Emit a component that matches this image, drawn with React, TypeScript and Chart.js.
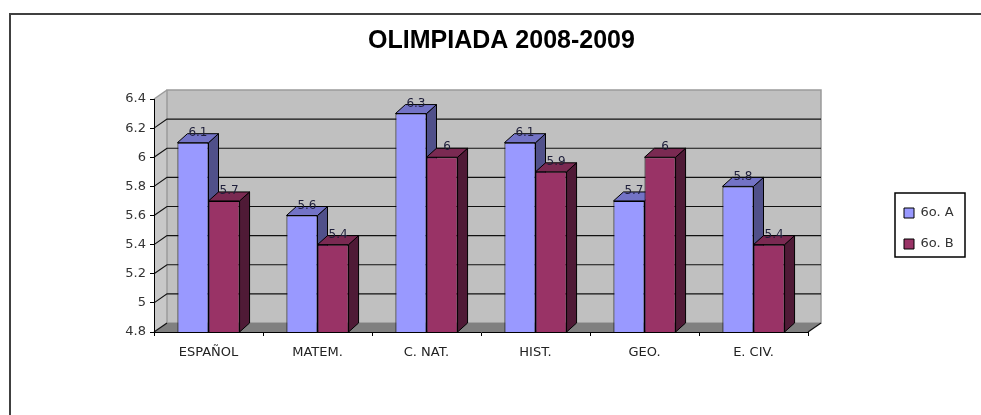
import { useEffect, useRef } from 'react';
import { Chart, registerables } from 'chart.js';

Chart.register(...registerables);

const TITLE = 'OLIMPIADA 2008-2009';
const CATEGORIES = ['ESPAÑOL', 'MATEM.', 'C. NAT.', 'HIST.', 'GEO.', 'E. CIV.'];
const SERIES_NAMES = ['6o. A', '6o. B'];
const VALUES_A = [6.1, 5.6, 6.3, 6.1, 5.7, 5.8];
const VALUES_B = [5.7, 5.4, 6.0, 5.9, 6.0, 5.4];
const Y_TICKS = [4.8, 5, 5.2, 5.4, 5.6, 5.8, 6, 6.2, 6.4];
const Y_TICK_LABELS = ['4.8', '5', '5.2', '5.4', '5.6', '5.8', '6', '6.2', '6.4'];

const FRONT = ['#9999FF', '#993366'];
const SIDE = ['#50508A', '#4F1A36'];
const TOPC = ['#7373C6', '#7A2A52'];

const WALL = { dx: 13, dy: -9 };
const BAR3D = { dx: 10, dy: -9 };
const LEGEND_SPACE = 173;
const LEGEND_POS = { left: 886, top: 188.5 };
const LEGEND_FRAME = { x: 895, y: 193, w: 70, h: 64 };

const threeD = {
  id: 'threeD',
  beforeLayout(chart: any) {
    const lg: any = chart.legend;
    if (lg && !lg.__patched) {
      const f = lg.fit;
      lg.fit = function () {
        f.call(this);
        this.width = LEGEND_SPACE;
      };
      lg.__patched = true;
    }
  },
  afterLayout(chart: any) {
    const lg: any = chart.legend;
    if (!lg) return;
    lg.left = LEGEND_POS.left;
    lg.top = LEGEND_POS.top;
    lg.width = 100;
    lg.height = 110;
    lg.right = lg.left + lg.width;
    lg.bottom = lg.top + lg.height;
  },
  beforeDraw(chart: any) {
    const { ctx, chartArea } = chart;
    const { left, right, top, bottom } = chartArea;
    const y = chart.scales.y;
    const { dx, dy } = WALL;
    ctx.save();
    // left wall
    ctx.fillStyle = '#C8C8C8';
    ctx.beginPath();
    ctx.moveTo(left, top);
    ctx.lineTo(left + dx, top + dy);
    ctx.lineTo(left + dx, bottom + dy);
    ctx.lineTo(left, bottom);
    ctx.closePath();
    ctx.fill();
    // back wall
    ctx.fillStyle = '#C0C0C0';
    ctx.fillRect(left + dx, top + dy, right - left, bottom - top);
    ctx.strokeStyle = '#9A9A9A';
    ctx.lineWidth = 1.5;
    ctx.strokeRect(left + dx, top + dy, right - left, bottom - top);
    ctx.beginPath();
    ctx.moveTo(left, top);
    ctx.lineTo(left + dx, top + dy);
    ctx.stroke();
    // floor
    ctx.fillStyle = '#808080';
    ctx.beginPath();
    ctx.moveTo(left, bottom);
    ctx.lineTo(right, bottom);
    ctx.lineTo(right + dx, bottom + dy);
    ctx.lineTo(left + dx, bottom + dy);
    ctx.closePath();
    ctx.fill();
    // gridlines
    ctx.strokeStyle = '#111';
    ctx.lineWidth = 1.2;
    const vmin = Y_TICKS[0];
    const vmax = Y_TICKS[Y_TICKS.length - 1];
    Y_TICKS.forEach((v) => {
      if (v === vmax) return;
      const py = y.getPixelForValue(v);
      ctx.beginPath();
      ctx.moveTo(left, py);
      ctx.lineTo(left + dx, py + dy);
      if (v !== vmin) ctx.lineTo(right + dx, py + dy);
      ctx.stroke();
    });
    // right floor edge
    ctx.beginPath();
    ctx.moveTo(right, bottom);
    ctx.lineTo(right + dx, bottom + dy);
    ctx.stroke();
    ctx.restore();
  },
  beforeDatasetsDraw(chart: any) {
    const { ctx, chartArea } = chart;
    const { dx, dy } = BAR3D;
    const n = CATEGORIES.length;
    ctx.save();
    ctx.strokeStyle = '#000';
    ctx.lineWidth = 1;
    for (let i = 0; i < n; i++) {
      for (let d = 0; d < chart.data.datasets.length; d++) {
        const bar: any = chart.getDatasetMeta(d).data[i];
        if (!bar) continue;
        const p = bar.getProps(['x', 'y', 'base', 'width'], true);
        const l = p.x - p.width / 2;
        const r = p.x + p.width / 2;
        const base = Math.min(p.base, chartArea.bottom);
        // side
        ctx.fillStyle = SIDE[d];
        ctx.beginPath();
        ctx.moveTo(r, p.y);
        ctx.lineTo(r + dx, p.y + dy);
        ctx.lineTo(r + dx, base + dy);
        ctx.lineTo(r, base);
        ctx.closePath();
        ctx.fill();
        ctx.stroke();
        // top
        ctx.fillStyle = TOPC[d];
        ctx.beginPath();
        ctx.moveTo(l, p.y);
        ctx.lineTo(r, p.y);
        ctx.lineTo(r + dx, p.y + dy);
        ctx.lineTo(l + dx, p.y + dy);
        ctx.closePath();
        ctx.fill();
        ctx.stroke();
      }
    }
    ctx.restore();
  },
  afterDatasetsDraw(chart: any) {
    const { ctx } = chart;
    ctx.save();
    ctx.font = '12px "DejaVu Sans"';
    ctx.textAlign = 'center';
    ctx.textBaseline = 'middle';
    ctx.fillStyle = '#1E1E3A';
    chart.data.datasets.forEach((ds: any, d: number) => {
      chart.getDatasetMeta(d).data.forEach((bar: any, i: number) => {
        const p = bar.getProps(['x', 'y'], true);
        ctx.fillText(String(ds.data[i]), p.x + 5, p.y - 10);
      });
    });
    ctx.restore();
  },
  afterDraw(chart: any) {
    const { ctx } = chart;
    ctx.save();
    ctx.strokeStyle = '#000';
    ctx.lineWidth = 1.5;
    ctx.strokeRect(LEGEND_FRAME.x, LEGEND_FRAME.y, LEGEND_FRAME.w, LEGEND_FRAME.h);
    ctx.restore();
  },
};

export default function App() {
  const ref = useRef<HTMLCanvasElement | null>(null);
  useEffect(() => {
    if (!ref.current) return;
    Chart.defaults.font.family = '"DejaVu Sans"';
    const chart = new Chart(ref.current, {
      type: 'bar',
      data: {
        labels: CATEGORIES,
        datasets: [
          {
            label: SERIES_NAMES[0],
            data: VALUES_A,
            backgroundColor: FRONT[0],
            borderColor: '#000',
            borderWidth: 1,
            borderSkipped: false,
          },
          {
            label: SERIES_NAMES[1],
            data: VALUES_B,
            backgroundColor: FRONT[1],
            borderColor: '#000',
            borderWidth: 1,
            borderSkipped: false,
          },
        ],
      },
      options: {
        responsive: false,
        animation: false,
        layout: { padding: { left: 22, right: 0, top: 0, bottom: 0 } },
        datasets: { bar: { categoryPercentage: 0.57, barPercentage: 1.0 } },
        plugins: {
          title: {
            display: true,
            text: TITLE,
            color: '#000',
            font: { family: '"Liberation Sans"', size: 25, weight: 'bold' },
            padding: { top: 26, bottom: 43 },
          },
          legend: {
            display: true,
            position: 'right',
            align: 'start',
            labels: {
              boxWidth: 10,
              boxHeight: 10,
              padding: 18,
              color: '#333',
              font: { size: 13 },
            },
          },
          tooltip: { enabled: false },
        },
        scales: {
          x: {
            type: 'category',
            grid: { drawOnChartArea: false, tickLength: 4, color: '#000', offset: true },
            border: { color: '#000', width: 1 },
            ticks: { color: '#222', font: { size: 13 }, padding: 9, maxRotation: 0 },
            afterFit(scale: any) {
              scale.height = 83;
            },
          },
          y: {
            type: 'linear',
            min: Y_TICKS[0],
            max: Y_TICKS[Y_TICKS.length - 1],
            afterBuildTicks(scale: any) {
              scale.ticks = Y_TICKS.map((v) => ({ value: v }));
            },
            grid: { drawOnChartArea: false, tickLength: 4, color: '#000' },
            border: { color: '#000', width: 1 },
            ticks: {
              color: '#333',
              font: { size: 13 },
              padding: 4,
              callback: (_v: any, i: number) => Y_TICK_LABELS[i],
            },
            afterFit(scale: any) {
              scale.width = 132;
            },
          },
        },
      } as any,
      plugins: [threeD],
    });
    return () => chart.destroy();
  }, []);

  return (
    <div
      style={{
        position: 'fixed',
        left: 0,
        top: 0,
        width: 981,
        height: 415,
        overflow: 'hidden',
        background: '#fff',
      }}
    >
      <div
        style={{
          position: 'absolute',
          left: 9,
          top: 13,
          width: 990,
          height: 500,
          border: '2px solid #404040',
          boxSizing: 'border-box',
        }}
      />
      <canvas
        ref={ref}
        width={981}
        height={415}
        style={{ position: 'absolute', left: 0, top: 0, display: 'block' }}
      />
    </div>
  );
}
